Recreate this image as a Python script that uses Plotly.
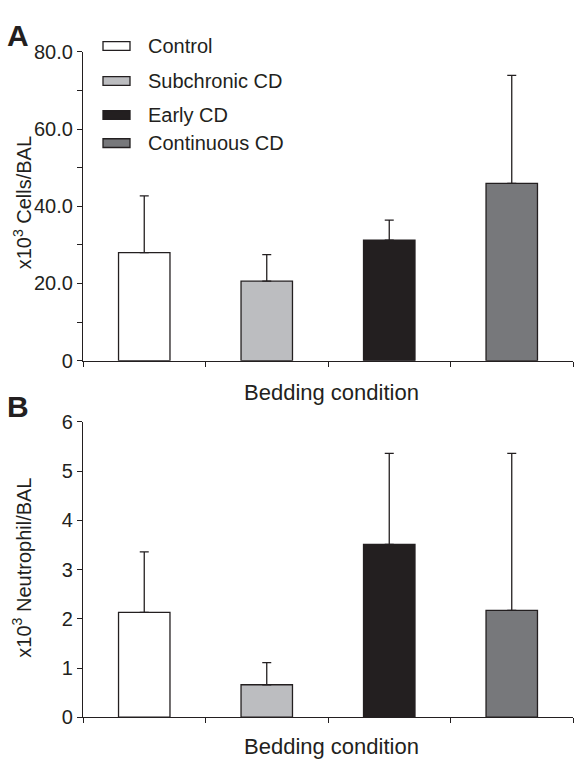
import plotly.graph_objects as go

# ---- data ----
categories = ["Control", "Subchronic CD", "Early CD", "Continuous CD"]
colors = ["#ffffff", "#bcbdc0", "#231f20", "#77787b"]

cells_mean = [28.0, 20.6, 31.2, 45.9]
cells_sd = [14.7, 6.9, 5.2, 28.0]

neut_mean = [2.13, 0.66, 3.51, 2.17]
neut_sd = [1.23, 0.45, 1.85, 3.19]

cells_tickvals = [0, 20, 40, 60, 80]
cells_ticktext = ["0", "20.0", "40.0", "60.0", "80.0"]
neut_tickvals = [0, 1, 2, 3, 4, 5, 6]

W, H = 574, 770
L, R = 83, 1
FONT = "Liberation Sans, Arial, sans-serif"
INK = "#231f20"


def px_x(px):
    return (px - L) / (W - L - R)


def px_y(py):
    return (H - py) / H


fig = go.Figure()

for xa, ya, mean, sd in [("x", "y", cells_mean, cells_sd), ("x2", "y2", neut_mean, neut_sd)]:
    fig.add_trace(go.Bar(
        x=categories, y=mean, xaxis=xa, yaxis=ya, width=0.42,
        marker=dict(color=colors, line=dict(color=INK, width=1.3)),
        error_y=dict(type="data", array=sd, arrayminus=[0] * len(sd), symmetric=False,
                     color=INK, thickness=1.3, width=4.5),
        showlegend=False, hoverinfo="skip",
    ))

xcommon = dict(type="category", showline=True, linecolor=INK, linewidth=1.3,
               ticks="outside", tickson="boundaries", ticklen=5, tickcolor=INK,
               tickwidth=1.3, showticklabels=False, showgrid=False, zeroline=False,
               range=[-0.5, 3.5])
ycommon = dict(showline=True, linecolor=INK, linewidth=1.3, ticks="outside",
               ticklen=5, tickcolor=INK, tickwidth=1.3, showgrid=False, zeroline=False,
               tickfont=dict(family=FONT, size=20, color=INK))

fig.update_layout(
    width=W, height=H,
    margin=dict(l=L, r=R, t=0, b=0),
    paper_bgcolor="white", plot_bgcolor="white",
    font=dict(family=FONT, color=INK),
    xaxis=dict(domain=[0, 1], anchor="y", **xcommon),
    yaxis=dict(domain=[px_y(360), px_y(42)], anchor="x", range=[0, 80],
               tickmode="array", tickvals=cells_tickvals, ticktext=cells_ticktext,
               minor=dict(dtick=10, tick0=0, ticks="outside", ticklen=5,
                          tickcolor=INK, tickwidth=1.3),
               **ycommon),
    xaxis2=dict(domain=[0, 1], anchor="y2", **xcommon),
    yaxis2=dict(domain=[px_y(727), px_y(423)], anchor="x2", range=[0, 6],
                tickmode="array", tickvals=neut_tickvals, **ycommon),
)


def note(text, x, y, size, **kw):
    d = dict(text=text, x=px_x(x), y=px_y(y), xref="paper", yref="paper",
             xanchor="center", yanchor="middle", showarrow=False,
             font=dict(family=FONT, size=size, color=INK))
    d.update(kw)
    return d


ann = [
    note("<b>A</b>", 18, 25, 30),
    note("<b>B</b>", 18, 407, 30),
    note("Bedding condition", 331, 393, 22),
    note("Bedding condition", 331, 757, 22),
    note("x10<sup>3</sup> Cells/BAL", 22, 198, 20, textangle=-90),
    note("x10<sup>3</sup> Neutrophil/BAL", 22, 573, 20, textangle=-90),
]

# manual legend
row_y = [36, 72, 107, 136]
shapes = []
for name, col, ry in zip(categories, colors, row_y):
    shapes.append(dict(type="rect", xref="paper", yref="paper",
                       x0=px_x(103), x1=px_x(130), y0=px_y(ry + 4.5), y1=px_y(ry - 4.5),
                       fillcolor=col, line=dict(color=INK, width=1.3)))
    ann.append(note(name, 146, ry, 20, xanchor="left"))

fig.update_layout(annotations=ann, shapes=shapes)

fig.write_html("out.html")
